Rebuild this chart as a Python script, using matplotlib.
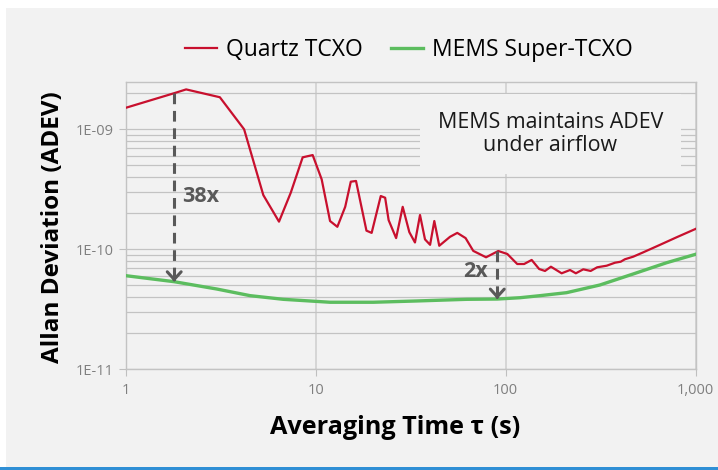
import matplotlib
matplotlib.use("Agg")
import matplotlib.pyplot as plt
from matplotlib.patches import Rectangle
from matplotlib.ticker import LogLocator, NullFormatter, FixedLocator

# ---- data ----
quartz_tau = [1.0, 1.8, 2.08, 3.13, 4.2, 5.3, 6.41, 7.39, 8.54, 9.64, 10.75, 11.9, 13.0,
              14.3, 15.3, 16.3, 18.5, 19.7, 22.0, 23.2, 24.2, 26.5, 28.7, 31.1, 33.3, 35.4,
              37.6, 40.0, 42.1, 44.7, 50.9, 55.6, 61.5, 67.5, 78.8, 91.4, 102, 115, 125,
              137, 150, 161, 173, 197, 218, 234, 256, 280, 303, 340, 376, 403, 424, 469,
              530, 649, 794, 1000]
quartz_adev = [1.51e-9, 2.0e-9, 2.15e-9, 1.85e-9, 1.0e-9, 2.83e-10, 1.70e-10, 2.96e-10,
               5.84e-10, 6.1e-10, 3.83e-10, 1.72e-10, 1.54e-10, 2.26e-10, 3.66e-10,
               3.71e-10, 1.43e-10, 1.37e-10, 2.78e-10, 2.69e-10, 1.75e-10, 1.24e-10,
               2.26e-10, 1.39e-10, 1.14e-10, 1.93e-10, 1.21e-10, 1.09e-10, 1.72e-10,
               1.07e-10, 1.27e-10, 1.37e-10, 1.24e-10, 9.7e-11, 8.58e-11, 9.68e-11,
               9.14e-11, 7.54e-11, 7.54e-11, 8.15e-11, 6.85e-11, 6.6e-11, 7.16e-11,
               6.31e-11, 6.72e-11, 6.31e-11, 6.81e-11, 6.6e-11, 7.08e-11, 7.3e-11,
               7.73e-11, 7.88e-11, 8.26e-11, 8.68e-11, 9.44e-11, 1.09e-10, 1.26e-10,
               1.48e-10]

mems_tau = [1, 1.8, 3.01, 4.51, 6.75, 11.9, 20.1, 34, 62.3, 90.3, 119, 152, 209, 313,
            469, 703, 1000]
mems_adev = [6.03e-11, 5.37e-11, 4.67e-11, 4.11e-11, 3.83e-11, 3.62e-11, 3.62e-11,
             3.71e-11, 3.83e-11, 3.85e-11, 3.95e-11, 4.11e-11, 4.35e-11, 5.04e-11,
             6.23e-11, 7.73e-11, 9.09e-11]

series_names = ["Quartz TCXO", "MEMS Super-TCXO"]
arrow_tau = [1.8, 90.3]
arrow_top = [2.0e-9, 9.7e-11]
arrow_bottom = [5.37e-11, 3.85e-11]
arrow_labels = ["38x", "2x"]

x_ticks = [1, 10, 100, 1000]
x_tick_labels = ["1", "10", "100", "1,000"]
y_ticks = [1e-11, 1e-10, 1e-9]
y_tick_labels = ["1E-11", "1E-10", "1E-09"]

note_text = "MEMS maintains ADEV\nunder airflow"

# ---- style ----
plt.rcParams['font.family'] = ['Open Sans', 'DejaVu Sans']
RED = '#c8102e'
GREEN = '#5cbd5f'
BG = '#f2f2f2'
DARK = '#595959'

fig = plt.figure(figsize=(7.18, 4.70), dpi=100, facecolor='white')
fig.patches.append(Rectangle((5.5 / 718, 3.3 / 470), 1 - 5.5 / 718, (462 - 3.3) / 470,
                             transform=fig.transFigure, facecolor=BG, edgecolor='none',
                             zorder=-10))
fig.patches.append(Rectangle((0, 0), 1, 3.3 / 470, transform=fig.transFigure,
                             facecolor='#2f8fd5', edgecolor='none', zorder=-10))

ax = fig.add_axes([125.7 / 718, 1 - 369.3 / 470, 570 / 718, 287 / 470])
ax.set_facecolor(BG)
ax.set_xscale('log')
ax.set_yscale('log')
ax.set_xlim(1, 1000)
ax.set_ylim(1e-11, 10 ** (-9 + 47 / 120))

ax.plot(quartz_tau, quartz_adev, color=RED, lw=1.6, label=series_names[0], zorder=3)
ax.plot(mems_tau, mems_adev, color=GREEN, lw=2.4, label=series_names[1], zorder=3)

# grid
ax.yaxis.set_major_locator(FixedLocator(y_ticks))
ax.yaxis.set_minor_locator(LogLocator(base=10, subs=range(2, 10)))
ax.yaxis.set_minor_formatter(NullFormatter())
ax.set_yticks(y_ticks, y_tick_labels)
ax.set_xticks(x_ticks, x_tick_labels)
ax.xaxis.set_minor_locator(FixedLocator([]))
ax.grid(axis='y', which='both', color='#c3c3c3', lw=0.9, zorder=0)
ax.grid(axis='x', which='major', color='#d4d4d4', lw=1.3, zorder=0)
ax.set_axisbelow(True)
for s in ax.spines.values():
    s.set_color('#c3c3c3')
    s.set_linewidth(1.0)
ax.tick_params(axis='both', which='major', length=5, color='#bfbfbf', labelcolor='#7f7f7f',
               labelsize=10.5)
ax.tick_params(axis='y', which='minor', length=0)
ax.tick_params(axis='y', pad=4)
ax.tick_params(axis='x', pad=5)

# arrows
for t, top, bot, lab in zip(arrow_tau, arrow_top, arrow_bottom, arrow_labels):
    ax.plot([t, t], [top, bot], color=DARK, lw=2.2, ls=(0, (3.5, 2.2)), zorder=4)
    ax.annotate('', xy=(t, bot), xytext=(t, bot * 1.06),
                arrowprops=dict(arrowstyle='->,head_length=0.55,head_width=0.5',
                                color=DARK, lw=2.2, shrinkA=0, shrinkB=0), zorder=4)

ax.text(1.97, 2.74e-10, arrow_labels[0], color=DARK, fontsize=15.5, fontweight='bold',
        ha='left', va='center', zorder=5)
ax.text(80.7, 6.48e-11, arrow_labels[1], color=DARK, fontsize=15.5, fontweight='bold',
        ha='right', va='center', zorder=5)

ax.text(172, 9.14e-10, note_text, ha='center', va='center', fontsize=15.4,
        color='#1a1a1a', linespacing=1.1, zorder=5,
        bbox=dict(boxstyle='square,pad=0.85', facecolor=BG, edgecolor='none'))

ax.set_xlabel("Averaging Time τ (s)", fontsize=18.2, fontweight='bold', color='black')
ax.xaxis.set_label_coords(0.472, -0.158)
ax.set_ylabel("Allan Deviation (ADEV)", fontsize=17.5, fontweight='bold', color='black')
ax.yaxis.set_label_coords(-0.107, 0.495)

fig.legend(loc='center', bbox_to_anchor=(409 / 718, 1 - 50 / 470), ncol=2, frameon=False,
           fontsize=16.5, handlelength=1.4, handletextpad=0.4, columnspacing=1.2)

fig.savefig('out.png', dpi=100, facecolor='white')
